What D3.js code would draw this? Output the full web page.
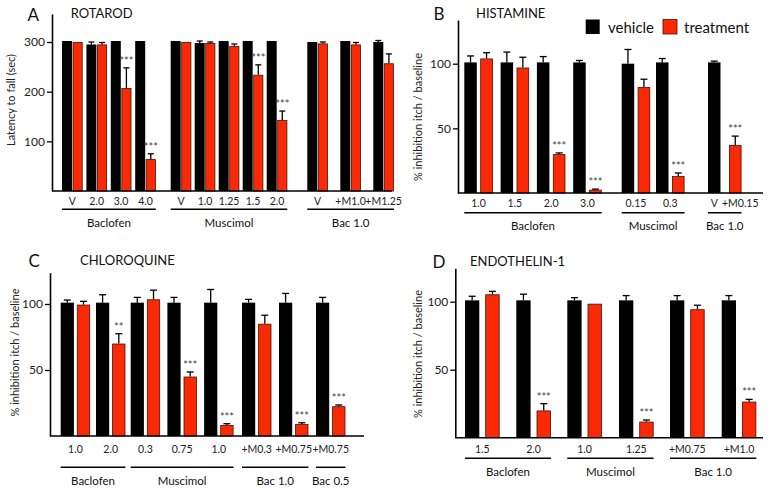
<!DOCTYPE html>
<html><head><meta charset="utf-8">
<script src="https://cdn.jsdelivr.net/npm/d3@7"></script>
<style>body{margin:0;background:#fff}svg{display:block;font-family:Lato,"Open Sans",sans-serif}</style>
</head><body><svg id="chart" width="777" height="492"></svg>
<script>
// ---------------- DATA ----------------
// Panel A: ROTAROD
const aGroups = ["Baclofen", "Muscimol", "Bac 1.0"];
const aCategories = ["V", "2.0", "3.0", "4.0", "V", "1.0", "1.25", "1.5", "2.0", "V", "+M1.0", "+M1.25"];
const aGroupIndex = [0, 0, 0, 0, 1, 1, 1, 1, 1, 2, 2, 2];
const aVehicle = [302, 295, 302, 302, 302, 298, 302, 302, 302, 300, 302, 300];
const aVehicleErr = [0, 5, 0, 0, 0, 4, 0, 0, 0, 0, 0, 3];
const aTreatment = [300, 295, 207, 64, 300, 298, 292, 234, 143, 297, 295, 257];
const aTreatmentErr = [0, 4, 41, 11, 0, 2, 4, 20, 18, 3, 4, 19];
const aStars = ["", "", "***", "***", "", "", "", "***", "***", "", "", ""];
const aTicks = [100, 200, 300];

// Panel B: HISTAMINE
const bGroups = ["Baclofen", "Muscimol", "Bac 1.0"];
const bCategories = ["1.0", "1.5", "2.0", "3.0", "0.15", "0.3", "V / +M0.15"];
const bSplitLabels = [null, null, null, null, null, null, ["V", "+M0.15"]];
const bGroupIndex = [0, 0, 0, 0, 1, 1, 2];
const bVehicle = [101, 101, 101, 101, 100, 101, 101];
const bVehicleErr = [5, 8, 4.5, 1.5, 11, 3, 1];
const bTreatment = [104, 97, 30, 2.5, 82, 13, 37];
const bTreatmentErr = [4.5, 8, 1, 0.5, 6, 2.5, 7];
const bStars = ["", "", "***", "***", "", "***", "***"];
const bTicks = [50, 100];

// Panel C: CHLOROQUINE
const cGroups = ["Baclofen", "Muscimol", "Bac 1.0", "Bac 0.5"];
const cCategories = ["1.0", "2.0", "0.3", "0.75", "1.0", "+M0.3", "+M0.75", "+M0.75"];
const cGroupIndex = [0, 0, 1, 1, 1, 2, 2, 3];
const cVehicle = [101, 101, 101, 101, 101, 101, 101, 101];
const cVehicleErr = [2, 6, 4, 4, 10, 2.5, 7, 4];
const cTreatment = [99.5, 70, 103.5, 45, 8.3, 85, 9, 22.5];
const cTreatmentErr = [2.5, 7.5, 7, 3.5, 1, 6.5, 1, 1];
const cStars = ["", "**", "", "***", "***", "", "***", "***"];
const cTicks = [50, 100];

// Panel D: ENDOTHELIN-1
const dGroups = ["Baclofen", "Muscimol", "Bac 1.0"];
const dCategories = ["1.5", "2.0", "1.0", "1.25", "+M0.75", "+M1.0"];
const dGroupIndex = [0, 0, 1, 1, 2, 2];
const dVehicle = [101, 101, 101, 101, 101, 101];
const dVehicleErr = [3, 4.5, 2, 3.5, 3.5, 3.5];
const dTreatment = [105.4, 20, 98.5, 11.8, 94.4, 26.5];
const dTreatmentErr = [2.2, 5, 0, 1.2, 3, 1.7];
const dStars = ["", "***", "", "***", "", "***"];
const dTicks = [50, 100];

const legendLabels = ["vehicle", "treatment"];
const yTitleA = "Latency to fall (sec)";
const yTitleItch = "% inhibition itch / baseline";

// ---------------- LAYOUT / STYLE ----------------
const RED = "#fb2a06", RED_EDGE = "#4a0e00";
const svg = d3.select("#chart");

const panels = [
  { letter: "A", title: "ROTAROD", groups: aGroups, cats: aCategories, gi: aGroupIndex, split: null,
    veh: aVehicle, vehErr: aVehicleErr, trt: aTreatment, trtErr: aTreatmentErr, stars: aStars, ticks: aTicks, yTitle: yTitleA,
    L: { axisX: 52, y0: 191, refVal: 300, refPx: 42, axisTop: 14, xEnd: 392, barW: 10, gap: 0.6, capW: 6,
         grp: [{ s: 62, st: 24.4 }, { s: 170.7, st: 24 }, { s: 307.3, st: 33 }],
         labelY: 205, lineY: 209.3, groupY: 227, letterXY: [27.5, 20.7], titleXY: [70.7, 18.3], yTitleXY: [14.5, 100] } },
  { letter: "B", title: "HISTAMINE", groups: bGroups, cats: bCategories, gi: bGroupIndex, split: bSplitLabels,
    veh: bVehicle, vehErr: bVehicleErr, trt: bTreatment, trtErr: bTreatmentErr, stars: bStars, ticks: bTicks, yTitle: yTitleItch,
    L: { axisX: 458, y0: 193, refVal: 100, refPx: 63.7, axisTop: 20, xEnd: 763, barW: 12.5, gap: 3.5, capW: 7,
         grp: [{ s: 464.3, st: 36.3 }, { s: 621.7, st: 34.3 }, { s: 708, st: 30, gap: 8.5 }],
         labelY: 207, lineY: 212.7, groupY: 229.5, letterXY: [433.5, 19.5], titleXY: [476, 18.3], yTitleXY: [421.5, 117] } },
  { letter: "C", title: "CHLOROQUINE", groups: cGroups, cats: cCategories, gi: cGroupIndex, split: null,
    veh: cVehicle, vehErr: cVehicleErr, trt: cTreatment, trtErr: cTreatmentErr, stars: cStars, ticks: cTicks, yTitle: yTitleItch,
    L: { axisX: 50, y0: 436, refVal: 100, refPx: 304, axisTop: 272.7, xEnd: 364, barW: 13.2, gap: 3, capW: 7,
         grp: [{ s: 60.7, st: 35.3 }, { s: 130.7, st: 36.7 }, { s: 242, st: 37 }, { s: 316, st: 37 }],
         labelY: 453, lineY: 467.3, groupY: 484.5, letterXY: [28.5, 266.7], titleXY: [80, 265], yTitleXY: [19, 352.5] } },
  { letter: "D", title: "ENDOTHELIN-1", groups: dGroups, cats: dCategories, gi: dGroupIndex, split: null,
    veh: dVehicle, vehErr: dVehicleErr, trt: dTreatment, trtErr: dTreatmentErr, stars: dStars, ticks: dTicks, yTitle: yTitleItch,
    L: { axisX: 455.3, y0: 437.7, refVal: 100, refPx: 301.7, axisTop: 268.3, xEnd: 763, barW: 14.3, gap: 6, capW: 7,
         grp: [{ s: 465, st: 51.3 }, { s: 567.3, st: 51.7 }, { s: 670, st: 51.7 }],
         labelY: 453, lineY: 458.3, groupY: 475.5, letterXY: [432.5, 267.5], titleXY: [470, 265.5], yTitleXY: [421.5, 354] } }
];

panels.forEach(drawPanel);

function drawPanel(p) {
  const L = p.L;
  const g = svg.append("g");
  // y scale (domain extended to axis top)
  const topVal = L.refVal * (L.y0 - L.axisTop) / (L.y0 - L.refPx);
  const y = d3.scaleLinear().domain([0, topVal]).range([L.y0, L.axisTop]);

  // per-group band scales
  const idx = d3.range(p.cats.length);
  const groupScales = p.groups.map((name, k) => {
    const members = idx.filter(i => p.gi[i] === k);
    const G = L.grp[k];
    const gap = G.gap !== undefined ? G.gap : L.gap;
    const pairW = 2 * L.barW + gap;
    const n = members.length;
    const outer = d3.scaleBand().domain(members).range([G.s, G.s + G.st * (n - 1) + pairW])
      .paddingInner(n > 1 ? 1 - pairW / G.st : 0).paddingOuter(0);
    const inner = d3.scaleBand().domain(["vehicle", "treatment"]).range([0, pairW])
      .paddingInner(gap / (L.barW + gap)).paddingOuter(0);
    return { members, outer, inner };
  });
  const xOf = (i, s) => { const gs = groupScales[p.gi[i]]; return gs.outer(i) + gs.inner(s); };
  const bw = i => groupScales[p.gi[i]].inner.bandwidth();

  // bars: vehicle
  g.selectAll(".veh").data(idx).join("rect")
    .attr("x", i => xOf(i, "vehicle")).attr("y", i => y(p.veh[i]))
    .attr("width", i => bw(i)).attr("height", i => y(0) - y(p.veh[i]))
    .attr("fill", "#000");
  // bars: treatment
  g.selectAll(".trt").data(idx).join("rect")
    .attr("x", i => xOf(i, "treatment") + 0.4).attr("y", i => y(p.trt[i]) + 0.4)
    .attr("width", i => bw(i) - 0.8).attr("height", i => Math.max(0, y(0) - y(p.trt[i]) - 0.4))
    .attr("fill", RED).attr("stroke", RED_EDGE).attr("stroke-width", 0.8);

  // error bars
  const errs = [];
  idx.forEach(i => {
    if (p.vehErr[i] > 0) errs.push({ cx: xOf(i, "vehicle") + bw(i) / 2, v: p.veh[i], e: p.vehErr[i] });
    if (p.trtErr[i] > 0) errs.push({ cx: xOf(i, "treatment") + bw(i) / 2, v: p.trt[i], e: p.trtErr[i] });
  });
  const eg = g.append("g").attr("stroke", "#000").attr("stroke-width", 1.3);
  eg.selectAll(".ev").data(errs).join("line")
    .attr("x1", d => d.cx).attr("x2", d => d.cx).attr("y1", d => y(d.v)).attr("y2", d => y(d.v + d.e));
  eg.selectAll(".ec").data(errs).join("line")
    .attr("x1", d => d.cx - L.capW / 2).attr("x2", d => d.cx + L.capW / 2)
    .attr("y1", d => y(d.v + d.e)).attr("y2", d => y(d.v + d.e));

  // stars
  g.selectAll(".star").data(idx.filter(i => p.stars[i])).join("text")
    .attr("x", i => xOf(i, "treatment") + bw(i) / 2)
    .attr("y", i => y(p.trt[i] + p.trtErr[i]) - 3)
    .attr("text-anchor", "middle").attr("font-size", 11).attr("fill", "#444")
    .text(i => p.stars[i]);

  // y axis
  const ax = g.append("g").attr("transform", `translate(${L.axisX},0)`)
    .call(d3.axisLeft(y).tickValues(p.ticks).tickSize(5).tickSizeOuter(0).tickPadding(2));
  ax.select(".domain").attr("stroke-width", 1.6);
  ax.selectAll(".tick line").attr("stroke-width", 1.3);
  ax.selectAll(".tick text").attr("font-size", 12).attr("font-family", "Lato, sans-serif").attr("fill", "#222");
  // x axis baseline
  g.append("line").attr("x1", L.axisX).attr("x2", L.xEnd).attr("y1", L.y0).attr("y2", L.y0)
    .attr("stroke", "#000").attr("stroke-width", 1.6);

  // category labels
  idx.forEach(i => {
    const sp = p.split ? p.split[i] : null;
    if (sp) {
      ["vehicle", "treatment"].forEach((s, k) => {
        g.append("text").attr("x", xOf(i, s) + bw(i) / 2 + (k ? 5 : 0)).attr("y", L.labelY)
          .attr("text-anchor", "middle").attr("font-size", 10.5).attr("fill", "#222").text(sp[k]);
      });
    } else {
      const gs = groupScales[p.gi[i]];
      g.append("text").attr("x", gs.outer(i) + gs.outer.bandwidth() / 2).attr("y", L.labelY)
        .attr("text-anchor", "middle").attr("font-size", 10.5).attr("fill", "#222").text(p.cats[i]);
    }
  });

  // group lines + labels
  groupScales.forEach((gs, k) => {
    const x1 = gs.outer(gs.members[0]);
    const x2 = gs.outer(gs.members[gs.members.length - 1]) + gs.outer.bandwidth();
    g.append("line").attr("x1", x1).attr("x2", x2).attr("y1", L.lineY).attr("y2", L.lineY)
      .attr("stroke", "#000").attr("stroke-width", 1.5);
    g.append("text").attr("x", (x1 + x2) / 2).attr("y", L.groupY).attr("text-anchor", "middle")
      .attr("font-size", 11.5).attr("fill", "#111").text(p.groups[k]);
  });

  // titles
  g.append("text").attr("x", L.letterXY[0]).attr("y", L.letterXY[1]).attr("font-size", 17).attr("fill", "#111").text(p.letter);
  g.append("text").attr("x", L.titleXY[0]).attr("y", L.titleXY[1]).attr("font-size", 13).attr("fill", "#111").text(p.title);
  g.append("text").attr("transform", `translate(${L.yTitleXY[0]},${L.yTitleXY[1]}) rotate(-90)`)
    .attr("text-anchor", "middle").attr("font-size", 11).attr("fill", "#222").text(p.yTitle);
}

// legend (panel B)
const leg = svg.append("g");
const legX = [585.7, 663], legTextX = [608, 684];
legendLabels.forEach((t, k) => {
  leg.append("rect").attr("x", legX[k]).attr("y", 19.5).attr("width", 14).attr("height", 14.5)
    .attr("fill", k ? RED : "#000").attr("stroke", k ? RED_EDGE : "none").attr("stroke-width", 0.8);
  leg.append("text").attr("x", legTextX[k]).attr("y", 33).attr("font-size", 15).attr("fill", "#111").text(t);
});
</script></body></html>
